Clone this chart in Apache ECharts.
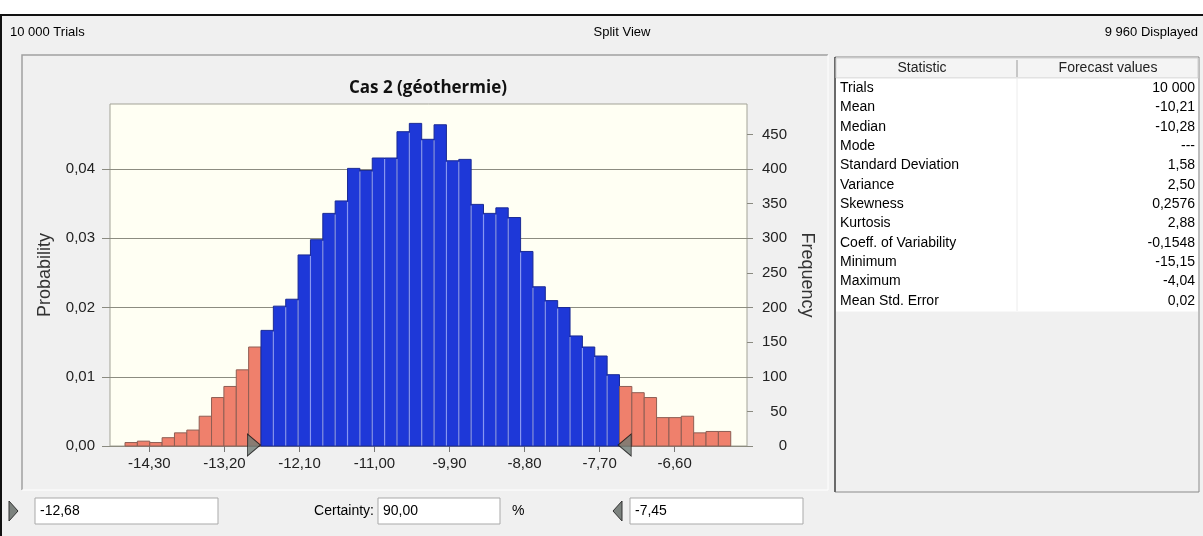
<!DOCTYPE html>
<html>
<head>
<meta charset="utf-8">
<script src="https://cdn.jsdelivr.net/npm/echarts@6/dist/echarts.min.js"></script>
<style>
  html, body { margin: 0; padding: 0; background: #f0f0f0; }
  #main { width: 1203px; height: 536px; }
</style>
</head>
<body>
<div id="main"></div>
<script>
  // histogram bins (frequency per bin)
  var binStart = -14.657;
  var binWidth = 0.1812;
  var frequencies = [
    5, 7, 5, 12, 19, 23, 43, 70, 86, 110, 143,
    167, 202, 212, 276, 298, 336, 354, 401, 398, 416, 416, 454, 466, 443, 464,
    412, 414, 349, 336, 344, 330, 281, 230, 210, 200, 159, 143, 130, 103,
    86, 77, 70, 41, 41, 43, 19, 21, 21
  ];
  var certaintyLow = -12.68;
  var certaintyHigh = -7.45;
  var certainty = "90,00";
  var xTicks = [-14.3, -13.2, -12.1, -11.0, -9.9, -8.8, -7.7, -6.6];
  var probTicks = [0, 0.01, 0.02, 0.03, 0.04];
  var freqTicks = [0, 50, 100, 150, 200, 250, 300, 350, 400, 450];

  var statNames = ["Trials", "Mean", "Median", "Mode", "Standard Deviation", "Variance",
    "Skewness", "Kurtosis", "Coeff. of Variability", "Minimum", "Maximum", "Mean Std. Error"];
  var statValues = ["10 000", "-10,21", "-10,28", "---", "1,58", "2,50",
    "0,2576", "2,88", "-0,1548", "-15,15", "-4,04", "0,02"];

  var myChart = echarts.init(document.getElementById("main"));
  var uiFont = "'Liberation Sans', Arial, sans-serif";

  function comma(v, d) {
    return v.toFixed(d).replace(".", ",");
  }

  var binData = frequencies.map(function (f, i) {
    var x0 = binStart + i * binWidth;
    var x1 = x0 + binWidth;
    var mid = (x0 + x1) / 2;
    var inside = mid > certaintyLow && mid < certaintyHigh ? 1 : 0;
    return [x0, x1, f, inside];
  });

  // table + window chrome
  var graphics = [
    { type: "rect", shape: { x: 0, y: 0, width: 1203, height: 14 }, style: { fill: "#ffffff" } },
    { type: "rect", shape: { x: 0, y: 14, width: 1203, height: 2 }, style: { fill: "#111" } },
    { type: "rect", shape: { x: 0, y: 14, width: 2, height: 522 }, style: { fill: "#111" } },
    { type: "text", x: 10, y: 32, style: { text: "10 000 Trials", font: "13px " + uiFont, fill: "#000", textVerticalAlign: "middle" } },
    { type: "text", x: 622, y: 32, style: { text: "Split View", font: "13px " + uiFont, fill: "#000", textAlign: "center", textVerticalAlign: "middle" } },
    { type: "text", x: 1198, y: 32, style: { text: "9 960 Displayed", font: "13px " + uiFont, fill: "#000", textAlign: "right", textVerticalAlign: "middle" } },
    // chart panel frame
    { type: "polyline", shape: { points: [[22, 490], [22, 55], [828, 55]] }, style: { stroke: "#a0a0a0", lineWidth: 1.5, fill: null } },
    { type: "polyline", shape: { points: [[828, 55], [828, 490], [22, 490]] }, style: { stroke: "#ffffff", lineWidth: 1, fill: null } },
    { type: "text", x: 428, y: 88, style: { text: "Cas 2 (géothermie)", font: "bold 17px 'Open Sans', sans-serif", fill: "#111", textAlign: "center", textVerticalAlign: "middle" } },
    // table frame
    { type: "rect", shape: { x: 835, y: 57, width: 364, height: 435 }, style: { fill: "#f0f0f0", stroke: "#8a8a8a", lineWidth: 1 } },
    { type: "rect", shape: { x: 834, y: 57, width: 2, height: 435 }, style: { fill: "#6a6a6a" } },
    { type: "rect", shape: { x: 836, y: 58, width: 362, height: 20 }, style: { fill: "#f4f4f4", stroke: "#d0d0d0", lineWidth: 1 } },
    { type: "line", shape: { x1: 1017, y1: 60, x2: 1017, y2: 77 }, style: { stroke: "#9a9a9a", lineWidth: 1 } },
    { type: "text", x: 922, y: 68, style: { text: "Statistic", font: "14px " + uiFont, fill: "#222", textAlign: "center", textVerticalAlign: "middle" } },
    { type: "text", x: 1108, y: 68, style: { text: "Forecast values", font: "14px " + uiFont, fill: "#222", textAlign: "center", textVerticalAlign: "middle" } },
    { type: "rect", shape: { x: 836, y: 78.5, width: 362, height: 233 }, style: { fill: "#ffffff" } },
    { type: "line", shape: { x1: 1017, y1: 78, x2: 1017, y2: 311 }, style: { stroke: "#ececec", lineWidth: 1 } }
  ];
  statNames.forEach(function (name, i) {
    var cy = 88 + i * 19.36;
    graphics.push({ type: "text", x: 840, y: cy, style: { text: name, font: "14px " + uiFont, fill: "#000", textVerticalAlign: "middle" } });
    graphics.push({ type: "text", x: 1195, y: cy, style: { text: statValues[i], font: "14px " + uiFont, fill: "#000", textAlign: "right", textVerticalAlign: "middle" } });
  });

  // bottom row: certainty inputs
  graphics.push(
    { type: "polygon", shape: { points: [[9, 501], [18, 511], [9, 521]] }, style: { fill: "#7c827e", stroke: "#333", lineWidth: 1 } },
    { type: "rect", shape: { x: 35, y: 498, width: 183, height: 26 }, style: { fill: "#fff", stroke: "#a9a9a9", lineWidth: 1 } },
    { type: "text", x: 40, y: 511, style: { text: comma(certaintyLow, 2), font: "14px " + uiFont, fill: "#000", textVerticalAlign: "middle" } },
    { type: "text", x: 374, y: 511, style: { text: "Certainty:", font: "14px " + uiFont, fill: "#000", textAlign: "right", textVerticalAlign: "middle" } },
    { type: "rect", shape: { x: 378, y: 498, width: 122, height: 26 }, style: { fill: "#fff", stroke: "#a9a9a9", lineWidth: 1 } },
    { type: "text", x: 383, y: 511, style: { text: certainty, font: "14px " + uiFont, fill: "#000", textVerticalAlign: "middle" } },
    { type: "text", x: 512, y: 511, style: { text: "%", font: "14px " + uiFont, fill: "#000", textVerticalAlign: "middle" } },
    { type: "polygon", shape: { points: [[622, 501], [613, 511], [622, 521]] }, style: { fill: "#7c827e", stroke: "#333", lineWidth: 1 } },
    { type: "rect", shape: { x: 630, y: 498, width: 173, height: 26 }, style: { fill: "#fff", stroke: "#a9a9a9", lineWidth: 1 } },
    { type: "text", x: 635, y: 511, style: { text: comma(certaintyHigh, 2), font: "14px " + uiFont, fill: "#000", textVerticalAlign: "middle" } }
  );

  var option = {
    animation: false,
    backgroundColor: "#f0f0f0",
    textStyle: { fontFamily: uiFont },
    grid: {
      left: 110, top: 104, width: 637, height: 342,
      show: true, backgroundColor: "#fffff3", borderColor: "#a3a397", borderWidth: 1
    },
    xAxis: {
      type: "value",
      min: -14.877,
      max: -5.54,
      axisLine: { show: false },
      splitLine: { show: false },
      axisTick: { show: true, customValues: xTicks, length: 6, lineStyle: { color: "#777" } },
      axisLabel: {
        customValues: xTicks, margin: 10, fontSize: 15, color: "#222",
        formatter: function (v) { return comma(v, 2); }
      }
    },
    yAxis: [
      {
        type: "value", position: "left", min: 0, max: 0.0494, interval: 0.01,
        name: "Probability", nameLocation: "middle", nameGap: 56, nameRotate: 90,
        nameTextStyle: { fontSize: 18, color: "#333" },
        axisLine: { show: false },
        axisTick: { show: true, customValues: probTicks, length: 8, lineStyle: { color: "#8a8a80" } },
        splitLine: { show: true, lineStyle: { color: "#8c8c80", width: 1.2 } },
        axisLabel: {
          customValues: probTicks, margin: 15, fontSize: 15, color: "#222",
          formatter: function (v) { return comma(v, 2); }
        }
      },
      {
        type: "value", position: "right", min: 0, max: 494, interval: 50,
        name: "Frequency", nameLocation: "middle", nameGap: 50, nameRotate: -90,
        nameTextStyle: { fontSize: 18, color: "#333" },
        axisLine: { show: false },
        axisTick: { show: true, customValues: freqTicks, length: 6, lineStyle: { color: "#8a8a80" } },
        splitLine: { show: false },
        axisLabel: { customValues: freqTicks, margin: 40, align: "right", fontSize: 15, color: "#222" }
      }
    ],
    series: [
      {
        name: "Frequency",
        type: "custom",
        yAxisIndex: 1,
        encode: { x: [0, 1], y: 2 },
        data: binData,
        renderItem: function (params, api) {
          var x0 = api.value(0), x1 = api.value(1), f = api.value(2), inside = api.value(3);
          var pTop = api.coord([x0, f]);
          var pBot = api.coord([x1, 0]);
          var children = [{
            type: "rect",
            shape: { x: pTop[0], y: pTop[1], width: pBot[0] - pTop[0], height: pBot[1] - pTop[1] },
            style: {
              fill: inside ? "#1e38d8" : "#ef806c",
              stroke: inside ? "#1a2a95" : "#8e5e54",
              lineWidth: 1
            }
          }];
          if (inside && params.dataIndex > 0 && binData[params.dataIndex - 1][3]) {
            var prevTop = api.coord([x0, Math.min(f, binData[params.dataIndex - 1][2])]);
            children.push({
              type: "line",
              shape: { x1: pTop[0], y1: prevTop[1] + 1, x2: pTop[0], y2: pBot[1] - 0.5 },
              style: { stroke: "#8797f2", lineWidth: 1.2 }
            });
          }
          return { type: "group", children: children };
        },
        z: 3
      },
      {
        name: "Certainty bounds",
        type: "scatter",
        yAxisIndex: 1,
        clip: false,
        silent: true,
        data: [
          { value: [certaintyLow, 0], symbol: "path://M0,0 L10,8 L0,16 Z", symbolOffset: [-6, -1] },
          { value: [certaintyHigh, 0], symbol: "path://M10,0 L0,8 L10,16 Z", symbolOffset: [8, -1] }
        ],
        symbolSize: [13, 22],
        itemStyle: { color: "#6f7a74", borderColor: "#111", borderWidth: 1 },
        z: 5
      }
    ],
    graphic: graphics
  };

  myChart.setOption(option);
  window.addEventListener("resize", function () {
    myChart.resize();
  });
</script>
</body>
</html>
